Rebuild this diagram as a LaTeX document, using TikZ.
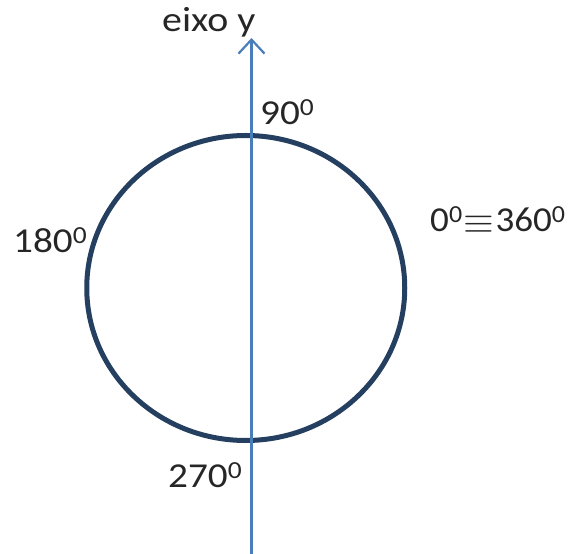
\documentclass[tikz,border=0pt]{standalone}
\usepackage{fontspec}
\setmainfont{Carlito}
\usetikzlibrary{arrows.meta}
\definecolor{circcol}{HTML}{243F60}
\definecolor{axiscol}{HTML}{4A7EBB}
\definecolor{txtcol}{HTML}{262626}
\tikzset{
  lbl/.style={anchor=base west, inner sep=0pt, text=txtcol, font=\fontsize{35}{40}\selectfont},
}
\newcommand{\dg}{\textsuperscript{0}}
\begin{document}
\begin{tikzpicture}[x=1pt,y=1pt]
\useasboundingbox (0,0) rectangle (584,554);
\coordinate (bot) at (251.5,0);
\coordinate (top) at (251.5,516);
\draw[circcol, line width=5pt] (245.75,266) ellipse [x radius=159, y radius=152.5];
\draw[axiscol, line width=2.2pt, -{Straight Barb[length=14pt,width=26pt,line width=2.2pt]}] (bot) -- (top);
\node[lbl] (ey) at (162,522) {\scalebox{1.14}[1]{eixo y}};
\node[lbl] (n90) at (260,429) {\scalebox{1.12}[1]{90\dg}};
\node[lbl] (n180) at (13,301) {\scalebox{1.12}[1]{180\dg}};
\node[lbl] (n0) at (430,322) {\scalebox{1.06}[1]{0\dg\kern1pt\raisebox{-0.05em}{\scalebox{1.5}{$\equiv$}}\kern1pt360\dg}};
\node[lbl] (n270) at (168,66) {\scalebox{1.12}[1]{270\dg}};
\end{tikzpicture}
\end{document}
